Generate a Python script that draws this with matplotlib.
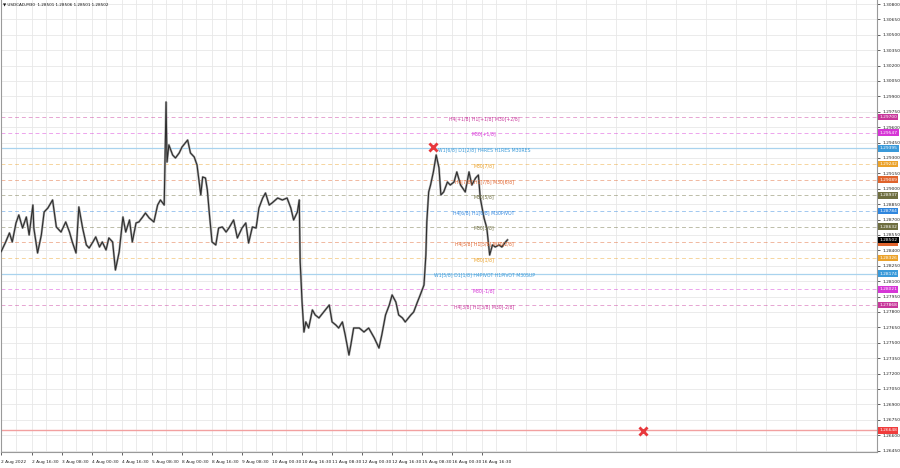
import matplotlib
matplotlib.use("Agg")
import matplotlib.pyplot as plt
import numpy as np

# price path (bar index on M30, close price)
bars = [0, 5, 9, 12, 16, 19, 23, 27, 30, 34, 35, 39, 43, 46, 50, 55, 59, 64, 69, 73,
        76, 80, 83, 87, 91, 94, 98, 101, 105, 108, 112, 115, 119, 122, 126, 130, 133, 137, 140, 144,
        147, 151, 154, 158, 163, 167, 170, 174, 176, 177, 179, 183, 186, 190, 193, 199, 202, 206, 209, 213,
        215, 218, 220, 222, 225, 229, 232, 236, 240, 243, 248, 252, 257, 261, 264, 268, 272, 275, 279, 282,
        286, 289, 295, 300, 305, 309, 312, 316, 318, 319, 321, 323, 325, 328, 332, 335, 339, 344, 350, 353,
        357, 360, 364, 367, 371, 373, 376, 382, 387, 392, 398, 403, 406, 410, 414, 417, 421, 424, 428, 431,
        437, 440, 444, 447, 451, 453, 454, 456, 458, 461, 464, 467, 469, 472, 476, 479, 483, 486, 490, 495,
        499, 502, 506, 509, 511, 515, 518, 521, 524, 527, 531, 534, 538, 540]
closes = [1.28385, 1.28482, 1.28570, 1.28482, 1.28667, 1.28745, 1.28618, 1.28725, 1.28550, 1.28842,
          1.28618, 1.28375, 1.28550, 1.28774, 1.28813, 1.28891, 1.28628, 1.28579, 1.28677, 1.28579,
          1.28482, 1.28375, 1.28823, 1.28618, 1.28453, 1.28423, 1.28482, 1.28531, 1.28433, 1.28482,
          1.28404, 1.28521, 1.28482, 1.28209, 1.28385, 1.28725, 1.28579, 1.28696, 1.28482, 1.28667,
          1.28677, 1.28725, 1.28764, 1.28716, 1.28677, 1.28842, 1.28891, 1.28842, 1.29845, 1.29261,
          1.29427, 1.29329, 1.29300, 1.29349, 1.29407, 1.29475, 1.29349, 1.29310, 1.29232, 1.28940,
          1.29115, 1.29105, 1.28988, 1.28774, 1.28482, 1.28453, 1.28618, 1.28628, 1.28579, 1.28618,
          1.28696, 1.28521, 1.28618, 1.28667, 1.28472, 1.28628, 1.28618, 1.28813, 1.28910, 1.28959,
          1.28842, 1.28862, 1.28910, 1.28891, 1.28910, 1.28813, 1.28696, 1.28774, 1.28891, 1.28287,
          1.27897, 1.27605, 1.27703, 1.27644, 1.27820, 1.27771, 1.27742, 1.27800, 1.27868, 1.27703,
          1.27673, 1.27644, 1.27703, 1.27576, 1.27381, 1.27479, 1.27644, 1.27644, 1.27605, 1.27644,
          1.27547, 1.27449, 1.27576, 1.27771, 1.27868, 1.27966, 1.27897, 1.27771, 1.27742, 1.27703,
          1.27771, 1.27800, 1.27897, 1.27966, 1.28063, 1.28355, 1.28677, 1.28969, 1.29037, 1.29164,
          1.29329, 1.29203, 1.28940, 1.28969, 1.29066, 1.29037, 1.29066, 1.29164, 1.29037, 1.28969,
          1.29164, 1.29037, 1.29105, 1.29134, 1.28910, 1.28716, 1.28618, 1.28355, 1.28453, 1.28433,
          1.28453, 1.28433, 1.28482, 1.28502]

tick_bars = [0, 33, 65, 97, 129, 161, 193, 225, 257, 289, 321, 353, 385, 417, 449, 481, 513]
tick_labels = ["2 Aug 2022", "2 Aug 16:30", "3 Aug 08:30", "4 Aug 00:30", "4 Aug 16:30",
               "5 Aug 08:30", "8 Aug 00:30", "8 Aug 16:30", "9 Aug 08:30", "10 Aug 00:30",
               "10 Aug 16:30", "11 Aug 08:30", "12 Aug 00:30", "12 Aug 16:30", "15 Aug 08:30",
               "16 Aug 00:30", "16 Aug 16:30"]

# murrey levels
level_prices = [1.29700, 1.29547, 1.29395, 1.29242, 1.29089, 1.28937, 1.28784,
                1.28632, 1.28479, 1.28326, 1.28174, 1.28021, 1.27868]
level_names = ["H4[+1/8] H1[+1/8] M30[+2/8]", "M30[+1/8]", "W1[6/8] D1[2/8] H4RES H1RES M30RES",
               "M30[7/8]", "H4[7/8] H1[7/8] M30[6/8]", "M30[5/8]", "H4[6/8] H1[6/8] M30PIVOT",
               "M30[3/8]", "H4[5/8] H1[5/8] M30[2/8]", "M30[1/8]",
               "W1[5/8] D1[1/8] H4PIVOT H1PIVOT M30SUP", "M30[-1/8]", "H4[3/8] H1[3/8] M30[-2/8]"]
level_colors = ["#c8389b", "#d636d6", "#3a9ad9", "#eba22a", "#e0632c", "#6e6e40", "#2f86de",
                "#6e6e40", "#e0632c", "#eba22a", "#3a9ad9", "#d636d6", "#c8389b"]
level_solid = [False, False, True, False, False, False, False,
               False, False, False, True, False, False]

red_level = 1.26648
current_price = 1.28502
x_marks_bar = [461, 685]
x_marks_price = [1.29407, 1.26641]

FS = 3.2

fig = plt.figure(figsize=(9, 4.68), dpi=100)
ax = fig.add_axes([1 / 900, 16 / 468, 876 / 900, 452 / 468])
ax.set_xlim(0, 934)
ax.set_ylim(1.26436, 1.30839)

# grid
yt = np.arange(1.2645, 1.30801, 0.0015)
ax.set_yticks(yt)
ax.set_yticklabels(["%.5f" % v for v in yt])
ax.set_xticks(tick_bars)
ax.set_xticklabels(tick_labels, ha="left")
ax.set_xticks(np.arange(16, 934, 32), minor=True)
ax.grid(True, which="both", color="#e8e8e8", lw=0.6, zorder=0)
ax.set_axisbelow(True)

ax.yaxis.tick_right()
ax.tick_params(axis="y", labelsize=FS, length=2, width=0.5, pad=2, colors="#222222")
ax.tick_params(axis="x", labelsize=FS, length=2, width=0.5, pad=4, colors="#222222")
ax.tick_params(axis="x", which="minor", length=0)
for s in ax.spines.values():
    s.set_color("#9a9a9a")
    s.set_linewidth(0.8)
ax.spines["top"].set_visible(False)


def price_box(p, c, z=5):
    ax.annotate("%.5f" % p, (1, p), xycoords=("axes fraction", "data"), xytext=(1.6, 0),
                textcoords="offset points", ha="left", va="center", fontsize=FS, color="white",
                annotation_clip=False, zorder=z,
                bbox=dict(boxstyle="square,pad=0.3", fc=c, ec="none"))


# level lines and their names
for p, name, c, solid in zip(level_prices, level_names, level_colors, level_solid):
    if solid:
        ax.axhline(p, color="#a9d3ee", lw=0.9, zorder=1)
    else:
        ax.axhline(p, color=c, lw=0.7, alpha=0.45, dashes=(4, 3), zorder=1)
    ax.annotate(name, (515, p), xytext=(0, -1.2), textcoords="offset points",
                ha="center", va="center", fontsize=3.35, color=c, zorder=4)
    price_box(p, c)

ax.axhline(red_level, color="#f2a0a0", lw=1.0, zorder=1)
price_box(red_level, "#f03c3c")
price_box(current_price, "black", z=6)

# price
ax.plot(bars, closes, color="#a8a8a8", lw=1.6, zorder=2)
ax.plot(bars, closes, color="#2e2e2e", lw=0.8, zorder=3)

ax.scatter(x_marks_bar, x_marks_price, marker="x", s=34, color="#e8383c", linewidths=2.0, zorder=6)

fig.text(3 / 900, 1 - 5 / 468, "\u25BC USDCAD,M30  1.28501 1.28506 1.28501 1.28502",
         fontsize=3.0, va="center", ha="left", color="#111111")

fig.savefig("out.png", dpi=100, facecolor="white")
